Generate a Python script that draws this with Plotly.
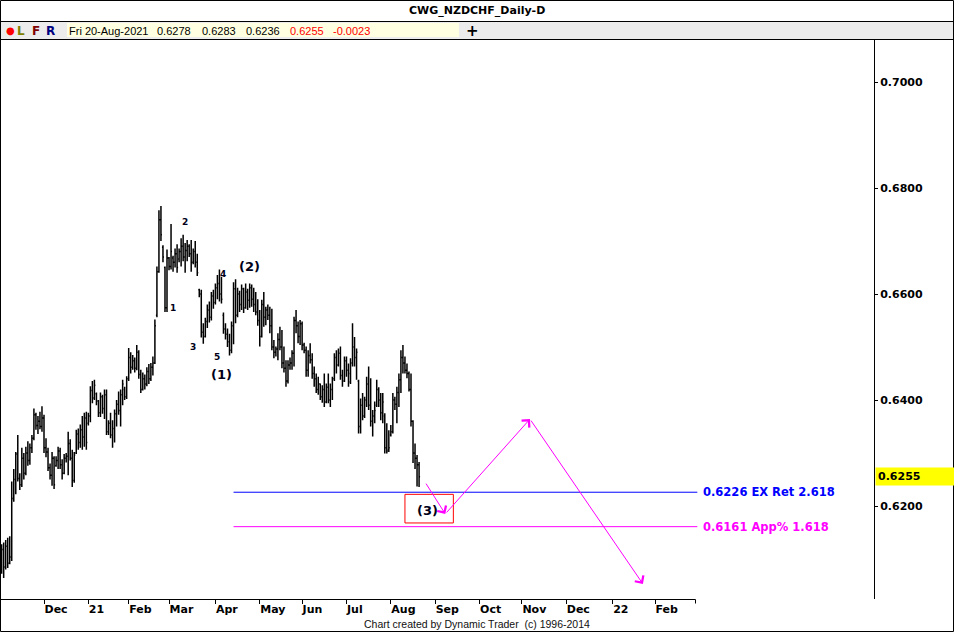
import pandas as pd
import plotly.graph_objects as go

W, H = 954, 632


def px(x):
    return x / W


def py(y):
    return 1 - y / H


# ---------------- data (NZDCHF daily) ----------------
opens = [
    .6080, .6118, .6085, .6124, .6092, .6104, .6214, .6250, .6298, .6252,
    .6240, .6290, .6262, .6300, .6286, .6310, .6328, .6372, .6352, .6360,
    .6350, .6366, .6310, .6302, .6272, .6258, .6290, .6276, .6286, .6304,
    .6278, .6262, .6290, .6294, .6318, .6290, .6248,
    .6300, .6336, .6320, .6344, .6330, .6366, .6356,
    .6370, .6418, .6404, .6412, .6398,
    .6376, .6406, .6384, .6410, .6340, .6356, .6334, .6346, .6374, .6392,
    .6380, .6410, .6420, .6406, .6440, .6480, .6462, .6474, .6460, .6490,
    .6448, .6420, .6440, .6430, .6454, .6440, .6462, .6470, .6560, .6642,
    .6740, .6688, .6650, .6574, .6668, .6652, .6668, .6660, .6676, .6666,
    .6680, .6690, .6670, .6682, .6690, .6676, .6660, .6680, .6660, .6608,
    .6600, .6528, .6520, .6548, .6570, .6556, .6596, .6584, .6612, .6620,
    .6600, .6560, .6534, .6524, .6510, .6494, .6540, .6610, .6560, .6600,
    .6580, .6610, .6574, .6604, .6588, .6612, .6590, .6580, .6566, .6550,
    .6520, .6580, .6556, .6570, .6560, .6540, .6500, .6490, .6496, .6514,
    .6500, .6470, .6460, .6436, .6466, .6470, .6488, .6550, .6540, .6520,
    .6544, .6504, .6494, .6456, .6484, .6476, .6450, .6440, .6420, .6430,
    .6406, .6420, .6396, .6424, .6400, .6420, .6440, .6480, .6466, .6488,
    .6446, .6436, .6474, .6456, .6450, .6470, .6500, .6480, .6436, .6350,
    .6390, .6370, .6400, .6430, .6390, .6360, .6370, .6390, .6420, .6400,
    .6376, .6370, .6310, .6306, .6334, .6340, .6400, .6392, .6414,
    .6438, .6480, .6470, .6456, .6450, .6420, .6360, .6300, .6290, .6278,
]
highs = [
    .6128, .6131, .6136, .6140, .6143, .6246, .6270, .6302, .6334, .6262,
    .6310, .6300, .6312, .6322, .6318, .6334, .6384, .6376, .6370, .6378,
    .6388, .6372, .6328, .6310, .6280, .6302, .6294, .6294, .6312, .6310,
    .6288, .6298, .6300, .6340, .6326, .6306, .6302,
    .6344, .6346, .6354, .6370, .6376, .6378, .6376,
    .6426, .6436, .6438, .6414, .6400,
    .6414, .6410, .6420, .6420, .6362, .6376, .6362, .6382, .6400, .6416,
    .6420, .6438, .6425, .6445, .6498, .6490, .6485, .6480, .6504, .6494,
    .6457, .6452, .6448, .6462, .6468, .6470, .6482, .6552, .6652, .6758,
    .6766, .6692, .6652, .6684, .6670, .6732, .6672, .6686, .6694, .6686,
    .6705, .6712, .6696, .6702, .6694, .6702, .6686, .6700, .6676, .6610,
    .6608, .6545, .6555, .6580, .6586, .6604, .6608, .6620, .6636, .6646,
    .6632, .6565, .6545, .6535, .6525, .6548, .6622, .6628, .6612, .6606,
    .6618, .6612, .6620, .6610, .6620, .6618, .6612, .6604, .6590, .6570,
    .6589, .6604, .6576, .6580, .6576, .6572, .6513, .6501, .6526, .6538,
    .6532, .6501, .6475, .6475, .6480, .6494, .6557, .6570, .6548, .6551,
    .6548, .6508, .6501, .6494, .6507, .6488, .6463, .6450, .6444, .6431,
    .6428, .6450, .6431, .6450, .6431, .6444, .6488, .6494, .6497, .6501,
    .6457, .6482, .6482, .6469, .6479, .6545, .6519, .6497, .6438, .6403,
    .6413, .6406, .6444, .6463, .6441, .6381, .6397, .6438, .6424, .6413,
    .6413, .6375, .6356, .6343, .6353, .6413, .6406, .6425, .6450,
    .6494, .6504, .6482, .6469, .6454, .6450, .6362, .6318, .6296, .6283,
]
lows = [
    .6072, .6064, .6080, .6083, .6090, .6096, .6208, .6222, .6246, .6230,
    .6236, .6250, .6258, .6276, .6278, .6300, .6324, .6344, .6336, .6345,
    .6340, .6300, .6292, .6266, .6250, .6238, .6232, .6274, .6270, .6270,
    .6250, .6260, .6282, .6258, .6286, .6236, .6244,
    .6298, .6306, .6310, .6306, .6312, .6306, .6352,
    .6358, .6394, .6400, .6390, .6368,
    .6368, .6374, .6364, .6334, .6334, .6328, .6310, .6320, .6350, .6372,
    .6350, .6390, .6400, .6402, .6436, .6450, .6457, .6452, .6456, .6440,
    .6413, .6418, .6420, .6426, .6430, .6436, .6446, .6468, .6556, .6640,
    .6700, .6660, .6566, .6566, .6645, .6646, .6642, .6650, .6640, .6660,
    .6652, .6662, .6640, .6662, .6670, .6642, .6656, .6650, .6634, .6594,
    .6518, .6506, .6518, .6536, .6546, .6550, .6572, .6580, .6590, .6586,
    .6582, .6525, .6514, .6500, .6484, .6488, .6505, .6545, .6556, .6566,
    .6570, .6564, .6572, .6570, .6574, .6576, .6566, .6560, .6540, .6501,
    .6518, .6538, .6541, .6551, .6526, .6494, .6479, .6482, .6475, .6494,
    .6460, .6452, .6425, .6431, .6457, .6457, .6463, .6526, .6507, .6504,
    .6494, .6488, .6444, .6444, .6469, .6440, .6425, .6413, .6410, .6400,
    .6395, .6387, .6394, .6394, .6387, .6400, .6436, .6450, .6463, .6438,
    .6425, .6434, .6444, .6425, .6430, .6463, .6463, .6438, .6337, .6337,
    .6362, .6366, .6387, .6381, .6350, .6331, .6356, .6387, .6387, .6362,
    .6356, .6299, .6299, .6302, .6331, .6337, .6381, .6356, .6387,
    .6413, .6450, .6450, .6441, .6416, .6350, .6281, .6270, .6237, .6236,
]
closes = [
    .6118, .6085, .6124, .6092, .6104, .6214, .6250, .6298, .6252, .6240,
    .6290, .6262, .6300, .6286, .6310, .6328, .6372, .6352, .6360, .6350,
    .6366, .6310, .6302, .6272, .6258, .6290, .6240, .6286, .6304, .6278,
    .6262, .6290, .6294, .6318, .6290, .6248, .6296,
    .6336, .6320, .6344, .6330, .6366, .6320, .6370,
    .6418, .6404, .6428, .6398, .6376,
    .6406, .6384, .6410, .6340, .6356, .6334, .6346, .6374, .6392, .6380,
    .6410, .6430, .6406, .6440, .6480, .6462, .6474, .6460, .6490, .6448,
    .6420, .6440, .6430, .6454, .6440, .6462, .6470, .6540, .6642, .6740,
    .6712, .6670, .6574, .6668, .6652, .6680, .6660, .6676, .6650, .6680,
    .6690, .6670, .6682, .6690, .6676, .6660, .6680, .6660, .6640, .6600,
    .6528, .6520, .6548, .6570, .6556, .6596, .6584, .6612, .6620, .6600,
    .6590, .6534, .6524, .6510, .6494, .6540, .6610, .6560, .6600, .6580,
    .6610, .6574, .6604, .6588, .6612, .6590, .6580, .6566, .6550, .6520,
    .6580, .6556, .6570, .6560, .6540, .6500, .6490, .6496, .6514, .6500,
    .6470, .6460, .6436, .6466, .6470, .6488, .6550, .6540, .6520, .6544,
    .6504, .6494, .6456, .6484, .6476, .6450, .6440, .6420, .6430, .6406,
    .6420, .6396, .6424, .6400, .6420, .6440, .6480, .6466, .6488, .6446,
    .6436, .6474, .6456, .6434, .6470, .6500, .6480, .6490, .6350, .6390,
    .6370, .6400, .6430, .6390, .6360, .6370, .6380, .6420, .6400, .6376,
    .6396, .6310, .6304, .6310, .6340, .6400, .6392, .6414, .6438,
    .6480, .6470, .6456, .6450, .6420, .6360, .6300, .6290, .6278, .6255,
]

first_day = "2020-11-02"
last_day = "2021-08-20"
holidays = ["2020-12-25", "2021-01-01"]
future_end = "2022-04-29"

month_starts = ["2020-12", "2021-01", "2021-02", "2021-03", "2021-04", "2021-05",
                "2021-06", "2021-07", "2021-08", "2021-09", "2021-10", "2021-11",
                "2021-12", "2022-01", "2022-02"]
month_labels = ["Dec", "21", "Feb", "Mar", "Apr", "May", "Jun", "Jul", "Aug",
                "Sep", "Oct", "Nov", "Dec", "22", "Feb"]

price_ticks = [0.62, 0.64, 0.66, 0.68, 0.70]
last_close = 0.6255

levels = [0.6226, 0.6161]
level_texts = ["0.6226 EX Ret 2.618", "0.6161 App% 1.618"]
level_colors = ["#0000ff", "#ff00ff"]
level_from = "2021-04-14"
level_to = "2022-03-02"

wave_texts = ["1", "2", "3", "4", "5", "(1)", "(2)", "(3)"]
wave_dates = ["2021-03-03", "2021-03-11", "2021-03-17", "2021-04-07",
              "2021-04-02", "2021-04-06", "2021-04-26", "2021-08-26"]
wave_prices = [0.6574, 0.6736, 0.6500, 0.6638, 0.6481, 0.6449, 0.6651, 0.6192]

proj_dates = ["2021-08-25", "2021-09-08", "2021-11-05", "2022-01-24"]
proj_prices = [0.6245, 0.6185, 0.6364, 0.6053]

box_dates = ["2021-08-11", "2021-09-14"]
box_prices = [0.6168, 0.6222]

info_texts = ["Fri 20-Aug-2021", "0.6278", "0.6283", "0.6236", "0.6255", "-0.0023"]
info_colors = ["#000000", "#000000", "#000000", "#000000", "#ff0000", "#ff0000"]

# ---------------- calendar ----------------
past = pd.bdate_range(first_day, last_day)
past = past[~past.isin(pd.to_datetime(holidays))]
future = pd.bdate_range(pd.Timestamp(last_day) + pd.offsets.BDay(1), future_end)
cal = past.append(future)
pos = {d.strftime("%Y-%m-%d"): i for i, d in enumerate(cal)}
xi = list(range(len(opens)))

month_pos = []
for m in month_starts:
    month_pos.append(next(i for i, d in enumerate(cal) if d.strftime("%Y-%m") == m))

BOLD = dict(family="DejaVu Sans", size=11, color="black", weight="bold")

fig = go.Figure()
fig.add_trace(go.Ohlc(
    x=xi, open=opens, high=highs, low=lows, close=closes,
    increasing=dict(line=dict(color="black", width=1.5)),
    decreasing=dict(line=dict(color="black", width=1.5)),
    tickwidth=0.5, hoverinfo="skip", showlegend=False,
))

# pixel scale: bar spacing ~2.0165 px, first bar at x=1.65 px
x_lo = (1 - 1.65) / 2.0165
x_hi = (874 - 1.65) / 2.0165
y_lo = 0.70 - (599 - 82) / 5300
y_hi = 0.70 + (82 - 40) / 5300

fig.update_layout(
    width=W, height=H, margin=dict(l=0, r=0, t=0, b=0), autosize=False,
    paper_bgcolor="white", plot_bgcolor="white", showlegend=False,
    xaxis=dict(
        domain=[px(1), px(874)], range=[x_lo, x_hi], showgrid=False, zeroline=False,
        showline=False, tickvals=month_pos, ticktext=month_labels,
        ticks="outside", ticklen=4, tickcolor="black", tickwidth=1,
        ticklabelposition="outside right", tickfont=BOLD,
        rangeslider=dict(visible=False), fixedrange=True,
    ),
    yaxis=dict(
        domain=[py(599), py(40)], range=[y_lo, y_hi], side="right",
        showgrid=False, zeroline=False, showline=True, linecolor="black", linewidth=1,
        tickvals=price_ticks, ticktext=[f"{v:.4f}" for v in price_ticks],
        ticks="outside", ticklen=3, tickcolor="black", tickfont=BOLD, fixedrange=True,
    ),
)

shapes = []
# toolbar background
shapes.append(dict(type="rect", xref="paper", yref="paper", x0=px(1), x1=px(953),
                   y0=py(39), y1=py(21), fillcolor="#ececec", line=dict(width=0), layer="below"))
shapes.append(dict(type="rect", xref="paper", yref="paper", x0=px(67), x1=px(459),
                   y0=py(37), y1=py(23), fillcolor="#ffffe1", line=dict(width=0), layer="below"))
# separators
for yy in (21.5, 39.5):
    shapes.append(dict(type="line", xref="paper", yref="paper", x0=0, x1=1,
                       y0=py(yy), y1=py(yy), line=dict(color="black", width=1)))
# outer frame
shapes.append(dict(type="rect", xref="paper", yref="paper", x0=px(0.5), x1=px(953.5),
                   y0=py(631.5), y1=py(0.5), line=dict(color="black", width=1)))
# time axis line
shapes.append(dict(type="line", xref="paper", yref="paper", x0=px(0), x1=px(695.5),
                   y0=py(599.5), y1=py(599.5), line=dict(color="black", width=1)))
shapes.append(dict(type="line", xref="paper", yref="paper", x0=px(695.5), x1=px(695.5),
                   y0=py(599.5), y1=py(603.5), line=dict(color="black", width=1)))
# level lines
for lv, col in zip(levels, level_colors):
    shapes.append(dict(type="line", xref="x", yref="y", x0=pos[level_from], x1=pos[level_to],
                       y0=lv, y1=lv, line=dict(color=col, width=1)))
# red box
shapes.append(dict(type="rect", xref="x", yref="y", x0=pos[box_dates[0]], x1=pos[box_dates[1]],
                   y0=box_prices[0], y1=box_prices[1], line=dict(color="#ff0000", width=1)))
fig.update_layout(shapes=shapes)

ann = []
ann.append(dict(xref="paper", yref="paper", x=px(477), y=py(10.5), text="CWG_NZDCHF_Daily-D",
                showarrow=False, font=BOLD, xanchor="center", yanchor="middle"))
for t, xx, col, sz in [("●", 10, "#ff0000", 10), ("L", 21, "#808000", 12),
                       ("F", 36, "#800000", 12), ("R", 50, "#000080", 12)]:
    ann.append(dict(xref="paper", yref="paper", x=px(xx), y=py(30.5), text=t, showarrow=False,
                    font=dict(family="DejaVu Sans", size=sz, color=col, weight="bold"),
                    xanchor="center", yanchor="middle"))
info_x = [69, 157, 202, 246, 290, 333]
for t, xx, col in zip(info_texts, info_x, info_colors):
    ann.append(dict(xref="paper", yref="paper", x=px(xx), y=py(30.5), text=t, showarrow=False,
                    font=dict(family="Liberation Sans", size=11, color=col),
                    xanchor="left", yanchor="middle", xshift=-2))
ann.append(dict(xref="paper", yref="paper", x=px(472), y=py(30.5), text="+", showarrow=False,
                font=dict(family="DejaVu Sans", size=15, color="black", weight="bold"),
                xanchor="center", yanchor="middle"))
# level labels
for lv, t, col in zip(levels, level_texts, level_colors):
    ann.append(dict(xref="x", yref="y", x=pos[level_to], y=lv, text=t, showarrow=False,
                    font=dict(family="DejaVu Sans", size=11.5, color=col, weight="bold"),
                    xanchor="left", yanchor="middle", xshift=4))
# last price box
ann.append(dict(xref="paper", yref="y", x=px(875), y=last_close, text=f"{last_close:.4f}",
                showarrow=False, font=BOLD, bgcolor="#ffff00", width=74, align="left",
                xanchor="left", yanchor="middle", borderpad=2))
# wave labels
for t, d, p in zip(wave_texts, wave_dates, wave_prices):
    big = t.startswith("(")
    ann.append(dict(xref="x", yref="y", x=pos[d], y=p, text=t, showarrow=False,
                    font=dict(family="DejaVu Sans", size=13 if big else 9, color="#000018",
                              weight="bold"),
                    xanchor="center", yanchor="middle"))
# projection arrows
for k in range(len(proj_dates) - 1):
    ann.append(dict(xref="x", yref="y", axref="x", ayref="y",
                    x=pos[proj_dates[k + 1]], y=proj_prices[k + 1],
                    ax=pos[proj_dates[k]], ay=proj_prices[k],
                    text="", showarrow=True, arrowhead=4, arrowsize=2, arrowwidth=1,
                    arrowcolor="#ff00ff", standoff=0, startstandoff=0))
ann.append(dict(xref="paper", yref="paper", x=px(477), y=py(623.5),
                text="Chart created by Dynamic Trader  (c) 1996-2014", showarrow=False,
                font=dict(family="Liberation Sans", size=10.5, color="#101010"),
                xanchor="center", yanchor="middle"))
fig.update_layout(annotations=ann)

fig.write_html(
    "out.html",
    config={"displayModeBar": False},
    post_script="document.body.style.margin='0';document.body.style.overflow='hidden';",
)
